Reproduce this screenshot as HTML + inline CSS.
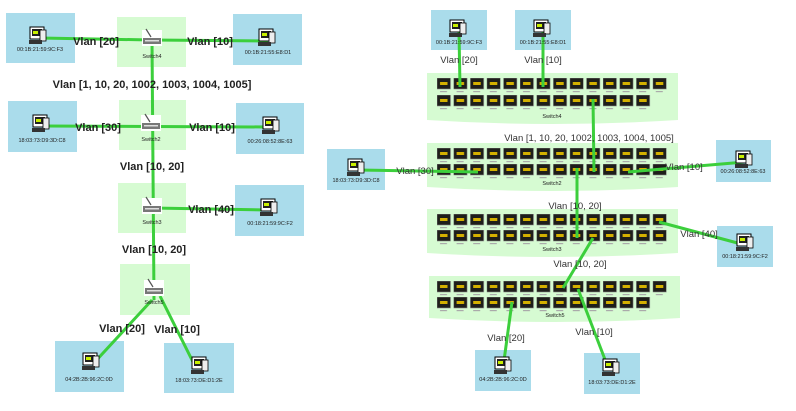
<!DOCTYPE html>
<html><head><meta charset="utf-8"><style>
html,body{margin:0;padding:0;background:#fff;}
svg{display:block;font-family:"Liberation Sans","DejaVu Sans",sans-serif;}
.lb{font-size:11px;fill:#222;text-anchor:middle;font-weight:bold;}
.rb{font-size:9.5px;fill:#333;text-anchor:middle;}
.mac{font-size:5.5px;fill:#222;text-anchor:middle;}
.g{stroke:#3ccf3c;stroke-width:3;fill:none;}
.h{fill:#aadceb;}
.s{fill:#d6fbd2;}
</style></head><body>
<svg width="796" height="411" viewBox="0 0 796 411" xmlns="http://www.w3.org/2000/svg">
<defs>
<pattern id="pt" patternUnits="userSpaceOnUse" x="437" y="0" width="16.6" height="1000">
<rect x="0" y="0" width="13.5" height="11" fill="#1e1e1a" stroke="#888" stroke-width="0.6"/>
<rect x="3" y="4" width="7.5" height="3" fill="#d4b000"/>
<rect x="3" y="13" width="7" height="1.2" fill="#aaa"/>
</pattern>
<g id="pc">
<rect x="-7" y="-9" width="14" height="12" fill="#fff" stroke="#000" stroke-width="1"/>
<rect x="-5" y="-7" width="10" height="7" fill="#222"/>
<rect x="-4" y="-5" width="5" height="3" fill="#c9f000"/>
<rect x="3" y="-6" width="6" height="11" fill="#eee" stroke="#000" stroke-width="0.8"/>
<rect x="-8" y="4" width="13" height="4" fill="#333"/>
</g>
<g id="sw">
<rect x="-10" y="-8" width="20" height="16" fill="#fff"/>
<line x1="-6" y1="-9" x2="-1" y2="-1" stroke="#555" stroke-width="1.2"/>
<rect x="-9" y="0" width="18" height="6" fill="#777"/>
<rect x="-7" y="2" width="14" height="1.5" fill="#ddd"/>
</g>
</defs>

<!-- LEFT side -->
<rect class="h" x="6" y="13" width="69" height="50"/>
<rect class="s" x="117" y="17" width="69" height="50"/>
<rect class="h" x="233" y="14" width="69" height="51"/>
<rect class="h" x="8" y="101" width="69" height="51"/>
<rect class="s" x="119" y="100" width="67" height="50"/>
<rect class="h" x="236" y="103" width="68" height="51"/>
<rect class="s" x="118" y="183" width="68" height="50"/>
<rect class="h" x="235" y="185" width="69" height="51"/>
<rect class="s" x="120" y="264" width="70" height="51"/>
<rect class="h" x="55" y="341" width="69" height="51"/>
<rect class="h" x="164" y="343" width="70" height="50"/>

<polyline class="g" points="40,38 152,40 268,41"/>
<line class="g" x1="152" y1="40" x2="154" y2="300"/>
<line class="g" x1="45" y1="126" x2="268" y2="127"/>
<line class="g" x1="152" y1="208" x2="268" y2="210"/>
<line class="g" x1="152" y1="300" x2="92" y2="365"/>
<line class="g" x1="160" y1="296" x2="196" y2="368"/>

<use href="#pc" x="37" y="36"/><text class="mac" x="40" y="51">00:1B:21:59:9C:F3</text>
<use href="#sw" x="152" y="38"/><text class="mac" x="152" y="58">Switch4</text>
<use href="#pc" x="266" y="38"/><text class="mac" x="268" y="54">00:1B:21:55:E8:D1</text>
<use href="#pc" x="40" y="124"/><text class="mac" x="42" y="142">18:03:73:D9:3D:C8</text>
<use href="#sw" x="151" y="123"/><text class="mac" x="151" y="141">Switch2</text>
<use href="#pc" x="270" y="126"/><text class="mac" x="270" y="143">00:26:08:52:8E:63</text>
<use href="#sw" x="152" y="206"/><text class="mac" x="152" y="224">Switch3</text>
<use href="#pc" x="268" y="208"/><text class="mac" x="270" y="225">00:18:21:59:9C:F2</text>
<use href="#sw" x="154" y="288"/><text class="mac" x="154" y="304">Switch5</text>
<use href="#pc" x="90" y="362"/><text class="mac" x="89" y="381">04:2B:2B:96:2C:0D</text>
<use href="#pc" x="199" y="366"/><text class="mac" x="199" y="382">18:03:73:DE:D1:2E</text>

<text class="lb" x="96" y="45">Vlan [20]</text>
<text class="lb" x="210" y="45">Vlan [10]</text>
<text class="lb" x="152" y="88">Vlan [1, 10, 20, 1002, 1003, 1004, 1005]</text>
<text class="lb" x="98" y="131">Vlan [30]</text>
<text class="lb" x="212" y="131">Vlan [10]</text>
<text class="lb" x="152" y="170">Vlan [10, 20]</text>
<text class="lb" x="211" y="213">Vlan [40]</text>
<text class="lb" x="154" y="253">Vlan [10, 20]</text>
<text class="lb" x="122" y="332">Vlan [20]</text>
<text class="lb" x="177" y="333">Vlan [10]</text>

<!-- RIGHT side -->
<rect class="h" x="431" y="10" width="56" height="40"/>
<rect class="h" x="515" y="10" width="56" height="40"/>
<rect class="h" x="327" y="149" width="58" height="41"/>
<rect class="h" x="716" y="140" width="55" height="42"/>
<rect class="h" x="717" y="226" width="56" height="41"/>
<rect class="h" x="475" y="350" width="56" height="41"/>
<rect class="h" x="584" y="353" width="56" height="41"/>

<path class="s" d="M427,73 H678 V120 Q552,128 427,120 Z"/>
<path class="s" d="M427,143 H678 V187 Q552,195 427,187 Z"/>
<path class="s" d="M427,209 H678 V253 Q552,261 427,253 Z"/>
<path class="s" d="M429,276 H680 V318 Q555,326 429,318 Z"/>

<rect x="437" y="0" width="232" height="16" fill="url(#pt)" transform="translate(0,78)"/>
<rect x="437" y="0" width="215" height="16" fill="url(#pt)" transform="translate(0,95)"/>
<rect x="437" y="0" width="232" height="16" fill="url(#pt)" transform="translate(0,148)"/>
<rect x="437" y="0" width="232" height="16" fill="url(#pt)" transform="translate(0,164)"/>
<rect x="437" y="0" width="232" height="16" fill="url(#pt)" transform="translate(0,214)"/>
<rect x="437" y="0" width="232" height="16" fill="url(#pt)" transform="translate(0,230)"/>
<rect x="437" y="0" width="232" height="16" fill="url(#pt)" transform="translate(0,281)"/>
<rect x="437" y="0" width="215" height="16" fill="url(#pt)" transform="translate(0,297)"/>
<text class="mac" x="552" y="118">Switch4</text>
<text class="mac" x="552" y="185">Switch2</text>
<text class="mac" x="552" y="251">Switch3</text>
<text class="mac" x="555" y="317">Switch5</text>

<line class="g" x1="459" y1="32" x2="460" y2="87"/>
<line class="g" x1="543" y1="32" x2="543" y2="87"/>
<line class="g" x1="593" y1="99" x2="594" y2="172"/>
<line class="g" x1="577" y1="168" x2="577" y2="238"/>
<line class="g" x1="593" y1="238" x2="563" y2="288"/>
<line class="g" x1="512" y1="302" x2="503" y2="368"/>
<line class="g" x1="578" y1="289" x2="609" y2="370"/>
<line class="g" x1="357" y1="170" x2="478" y2="172"/>
<line class="g" x1="628" y1="172" x2="745" y2="162"/>
<line class="g" x1="659" y1="222" x2="745" y2="245"/>

<use href="#pc" x="457" y="29"/><text class="mac" x="459" y="44">00:1B:21:59:9C:F3</text>
<use href="#pc" x="541" y="29"/><text class="mac" x="543" y="44">00:1B:21:55:E8:D1</text>
<use href="#pc" x="355" y="168"/><text class="mac" x="356" y="182">18:03:73:D9:3D:C8</text>
<use href="#pc" x="743" y="160"/><text class="mac" x="743" y="173">00:26:08:52:8E:63</text>
<use href="#pc" x="744" y="243"/><text class="mac" x="745" y="258">00:18:21:59:9C:F2</text>
<use href="#pc" x="502" y="366"/><text class="mac" x="503" y="381">04:2B:2B:96:2C:0D</text>
<use href="#pc" x="610" y="368"/><text class="mac" x="612" y="384">18:03:73:DE:D1:2E</text>

<text class="rb" x="459" y="63">Vlan [20]</text>
<text class="rb" x="543" y="63">Vlan [10]</text>
<text class="rb" x="589" y="141">Vlan [1, 10, 20, 1002, 1003, 1004, 1005]</text>
<text class="rb" x="415" y="174">Vlan [30]</text>
<text class="rb" x="684" y="170">Vlan [10]</text>
<text class="rb" x="575" y="209">Vlan [10, 20]</text>
<text class="rb" x="699" y="237">Vlan [40]</text>
<text class="rb" x="580" y="267">Vlan [10, 20]</text>
<text class="rb" x="506" y="341">Vlan [20]</text>
<text class="rb" x="594" y="335">Vlan [10]</text>
</svg>
</body></html>
